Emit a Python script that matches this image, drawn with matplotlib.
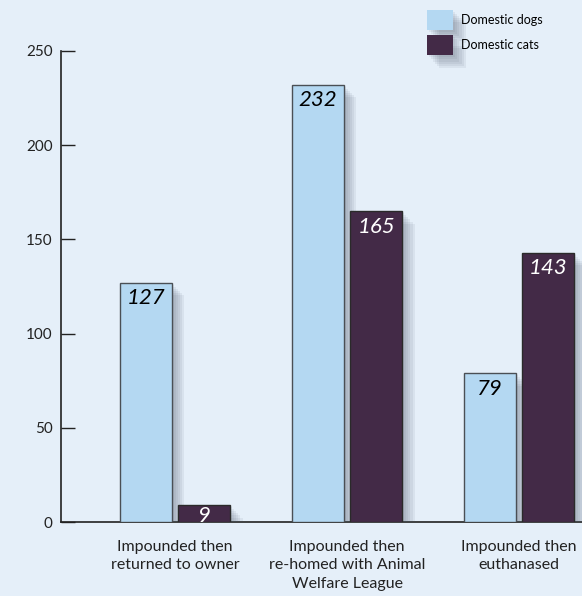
import matplotlib.pyplot as plt
import matplotlib.patheffects as pe
import numpy as np

categories = ['Impounded then\nreturned to owner',
              'Impounded then\nre-homed with Animal\nWelfare League',
              'Impounded then\neuthanased']
dogs = [127, 232, 79]
cats = [9, 165, 143]
series_names = ['Domestic dogs', 'Domestic cats']
yticks = [0, 50, 100, 150, 200, 250]

bg = '#e5eff9'
dog_col = '#b4d8f2'
cat_col = '#432a47'

plt.rcParams['font.family'] = ['Lato', 'DejaVu Sans']

# soft drop shadow built from a few stacked offsets
shadow = [pe.SimplePatchShadow(offset=(k, -k), shadow_rgbFace='#4a5563', alpha=0.08)
          for k in (1.5, 3, 4.5, 6, 7.5, 9)] + [pe.Normal()]

fig = plt.figure(figsize=(5.82, 5.96), dpi=100, facecolor=bg)
ax = fig.add_axes([61 / 582, 74 / 596, 521 / 582, 471 / 596])
ax.set_facecolor(bg)

x = np.arange(len(categories))
w = 0.302
off = 0.169
b1 = ax.bar(x - off, dogs, w, color=dog_col, edgecolor='#4a4f55', linewidth=1,
            label=series_names[0], zorder=3)
b2 = ax.bar(x + off, cats, w, color=cat_col, edgecolor='#2a2a2a', linewidth=1,
            label=series_names[1], zorder=3)
for r in list(b1) + list(b2):
    r.set_path_effects(shadow)

for bars, col in ((b1, 'black'), (b2, 'white')):
    for r in bars:
        h = r.get_height()
        ax.annotate(f'{h:g}', (r.get_x() + r.get_width() / 2, h),
                    xytext=(0, -4 if h > 20 else -1), textcoords='offset points',
                    ha='center', va='top', fontsize=16, style='italic', color=col,
                    zorder=5)

ax.set_xlim(-0.663, 2.366)
ax.set_ylim(0, 250)
ax.set_yticks(yticks)
ax.set_xticks(x)
ax.set_xticklabels(categories, linespacing=1.4)
ax.tick_params(axis='y', direction='in', length=10, width=1, color='#222222',
               labelsize=11, pad=6, labelcolor='#222222')
ax.tick_params(axis='x', length=0, labelsize=11.5, pad=13, labelcolor='#222222')
for s in ('top', 'right'):
    ax.spines[s].set_visible(False)
for s in ('left', 'bottom'):
    ax.spines[s].set_color('#222222')
    ax.spines[s].set_linewidth(1.2)
    ax.spines[s].set_path_effects(shadow)
    ax.spines[s].set_zorder(2)

leg = ax.legend(loc='upper left', bbox_to_anchor=(427 / 582, 1 - 10 / 596),
                bbox_transform=fig.transFigure, frameon=False, fontsize=9,
                handlelength=2.1, handleheight=2.1, handletextpad=0.6,
                labelspacing=0.4, borderpad=0, borderaxespad=0)
for h in leg.legend_handles:
    h.set_edgecolor('none')
    h.set_path_effects(shadow)

fig.savefig('out.png', dpi=100, facecolor=bg)
